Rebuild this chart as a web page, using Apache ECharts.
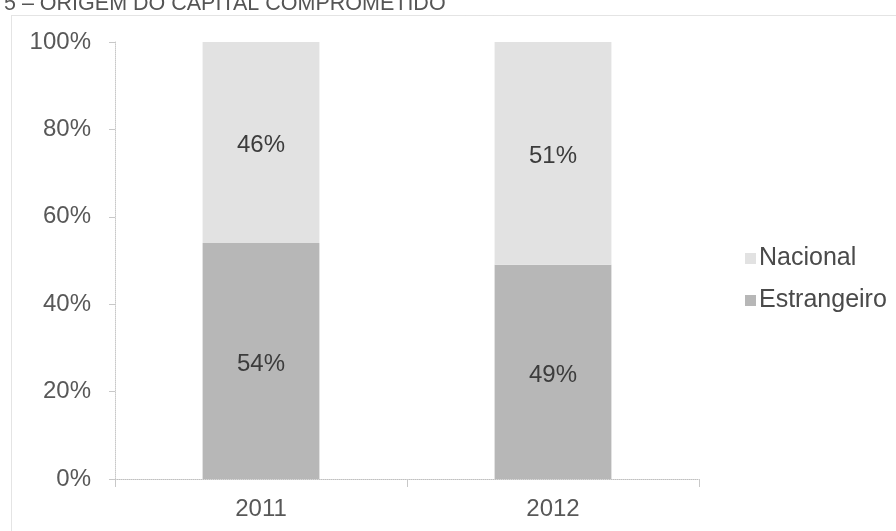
<!DOCTYPE html>
<html><head><meta charset="utf-8">
<script src="https://cdn.jsdelivr.net/npm/echarts@6/dist/echarts.min.js"></script>
<style>html,body{margin:0;padding:0;background:#fff}#c{width:896px;height:531px}</style>
</head><body><div id="c"></div>
<script>
const categories = ['2011', '2012'];
const estrangeiro = [54, 49];
const nacional = [46, 51];
const yTicks = [0, 20, 40, 60, 80, 100];

const chart = echarts.init(document.getElementById('c'));
const font = 'Liberation Sans, Arial, sans-serif';
chart.setOption({
  animation: false,
  backgroundColor: '#fff',
  title: {
    text: '5 – ORIGEM DO CAPITAL COMPROMETIDO',
    left: -1, top: -12,
    textStyle: { fontFamily: font, fontSize: 21.5, fontWeight: 'normal', color: '#555' }
  },
  graphic: [{
    type: 'rect', shape: { x: 11.5, y: 15.5, width: 900, height: 600 },
    style: { fill: 'none', stroke: '#c8c8c8', lineWidth: 1, lineDash: [1, 1] }, silent: true
  }],
  grid: { left: 115, right: 197, top: 42, bottom: 52 },
  legend: {
    orient: 'vertical', left: 740, top: 241, itemGap: 17,
    itemWidth: 11, itemHeight: 11, icon: 'rect',
    textStyle: { fontFamily: font, fontSize: 25, color: '#4a4a4a', padding: [0, 0, 0, -2] },
    data: ['Nacional', 'Estrangeiro']
  },
  xAxis: {
    type: 'category', data: categories,
    axisLine: { lineStyle: { color: '#c0c0c0', type: 'dotted' } },
    axisTick: { show: true, length: 8, lineStyle: { color: '#c8c8c8' } },
    axisLabel: { fontFamily: font, fontSize: 24, color: '#585858', margin: 18 }
  },
  yAxis: {
    type: 'value', min: 0, max: 100, interval: 20,
    axisLine: { show: true, lineStyle: { color: '#c8c8c8', type: 'dotted' } },
    axisTick: { show: true, length: 6, lineStyle: { color: '#c8c8c8' } },
    splitLine: { show: false },
    axisLabel: { fontFamily: font, fontSize: 24, color: '#585858', margin: 24,
      formatter: v => yTicks.includes(v) ? v + '%' : '' }
  },
  series: [
    { name: 'Estrangeiro', type: 'bar', stack: 's', data: estrangeiro, barWidth: '40%',
      itemStyle: { color: '#b7b7b7' },
      label: { show: true, position: 'inside', offset: [0, 3], formatter: '{c}%', fontFamily: font, fontSize: 24, color: '#3c3c3c' } },
    { name: 'Nacional', type: 'bar', stack: 's', data: nacional, barWidth: '40%',
      itemStyle: { color: '#e2e2e2' },
      label: { show: true, position: 'inside', offset: [0, 3], formatter: '{c}%', fontFamily: font, fontSize: 24, color: '#3c3c3c' } }
  ]
});
</script></body></html>
